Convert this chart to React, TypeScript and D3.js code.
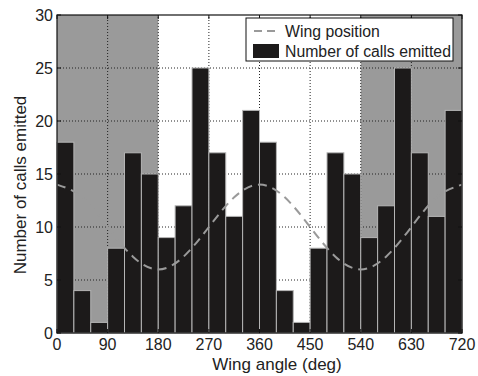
import React from "react";
import * as d3 from "d3";

const binStarts = [0, 30, 60, 90, 120, 150, 180, 210, 240, 270, 300, 330, 360, 390, 420, 450, 480, 510, 540, 570, 600, 630, 660, 690];
const callCounts = [18, 4, 1, 8, 17, 15, 9, 12, 25, 17, 11, 21, 18, 4, 1, 8, 17, 15, 9, 12, 25, 17, 11, 21];
const wingAngles = [0, 45, 90, 135, 180, 225, 270, 315, 360, 405, 450, 495, 540, 585, 630, 675, 720];
const wingPosition = [14, 12.8, 10, 7.2, 6, 7.2, 10, 12.8, 14, 12.8, 10, 7.2, 6, 7.2, 10, 12.8, 14];
const shadedRanges = [[0, 180], [540, 720]];
const xTicks = [0, 90, 180, 270, 360, 450, 540, 630, 720];
const yTicks = [0, 5, 10, 15, 20, 25, 30];
const binWidth = 30;

export default function App() {
  const W = 478, H = 376;
  const m = { l: 57, r: 16, t: 15, b: 43 };
  const x = d3.scaleLinear().domain([0, 720]).range([m.l, W - m.r]);
  const y = d3.scaleLinear().domain([0, 30]).range([H - m.b, m.t]);
  const line = d3.line<number>().x((_, i) => x(wingAngles[i])).y((d) => y(d)).curve(d3.curveNatural);
  const font = "'Liberation Sans', Arial, Helvetica, sans-serif";
  const fs = 16;
  return (
    <svg width={W} height={H} style={{ position: "absolute", left: 0, top: 0, background: "#fff" }} fontFamily={font}>
      <rect x={m.l} y={m.t} width={x(720) - m.l} height={y(0) - m.t} fill="#fff" />
      {shadedRanges.map(([a, b], i) => (
        <rect key={i} x={x(a)} y={y(30)} width={x(b) - x(a)} height={y(0) - y(30)} fill="#9a9a9a" />
      ))}
      {xTicks.slice(1, -1).map((t) => (
        <line key={"gx" + t} x1={x(t)} x2={x(t)} y1={y(0)} y2={y(30)} stroke="#222" strokeWidth={1} strokeDasharray="1,2" />
      ))}
      {yTicks.slice(1, -1).map((t) => (
        <line key={"gy" + t} x1={x(0)} x2={x(720)} y1={y(t)} y2={y(t)} stroke="#222" strokeWidth={1} strokeDasharray="1,2" />
      ))}
      {callCounts.map((v, i) => (
        <rect key={"b" + i} x={x(binStarts[i])} y={y(v)} width={x(binStarts[i] + binWidth) - x(binStarts[i])} height={y(0) - y(v)} fill="#1c1a1a" stroke="#b5b5b5" strokeWidth={1} />
      ))}
      <path d={line(wingPosition) || ""} fill="none" stroke="#9a9a9a" strokeWidth={2} strokeDasharray="9,6" />
      <rect x={m.l} y={m.t} width={x(720) - m.l} height={y(0) - m.t} fill="none" stroke="#111" strokeWidth={1.2} />
      {xTicks.map((t) => (
        <g key={"xt" + t}>
          <line x1={x(t)} x2={x(t)} y1={y(0)} y2={y(0) - 4} stroke="#111" />
          <line x1={x(t)} x2={x(t)} y1={y(30)} y2={y(30) + 4} stroke="#111" />
          <text x={x(t)} y={y(0) + 17} textAnchor="middle" fontSize={fs} fill="#222">{t}</text>
        </g>
      ))}
      {yTicks.map((t) => (
        <g key={"yt" + t}>
          <line x1={x(0)} x2={x(0) + 4} y1={y(t)} y2={y(t)} stroke="#111" />
          <line x1={x(720)} x2={x(720) - 4} y1={y(t)} y2={y(t)} stroke="#111" />
          <text x={x(0) - 4} y={y(t) + 6} textAnchor="end" fontSize={fs} fill="#222">{t}</text>
        </g>
      ))}
      <text x={277} y={369.5} textAnchor="middle" fontSize={17} fill="#222">Wing angle (deg)</text>
      <text transform={`translate(26,185) rotate(-90)`} textAnchor="middle" fontSize={17} fill="#222">Number of calls emitted</text>
      <g>
        <rect x={246} y={18} width={207} height={43} fill="#fff" stroke="#111" strokeWidth={1} />
        <line x1={254} x2={280} y1={31} y2={31} stroke="#9a9a9a" strokeWidth={2} strokeDasharray="8,5" />
        <text x={285} y={37} fontSize={15.8} fill="#222">Wing position</text>
        <rect x={253} y={44} width={26} height={14} fill="#1c1a1a" />
        <text x={285} y={57} fontSize={15.8} fill="#222">Number of calls emitted</text>
      </g>
    </svg>
  );
}
